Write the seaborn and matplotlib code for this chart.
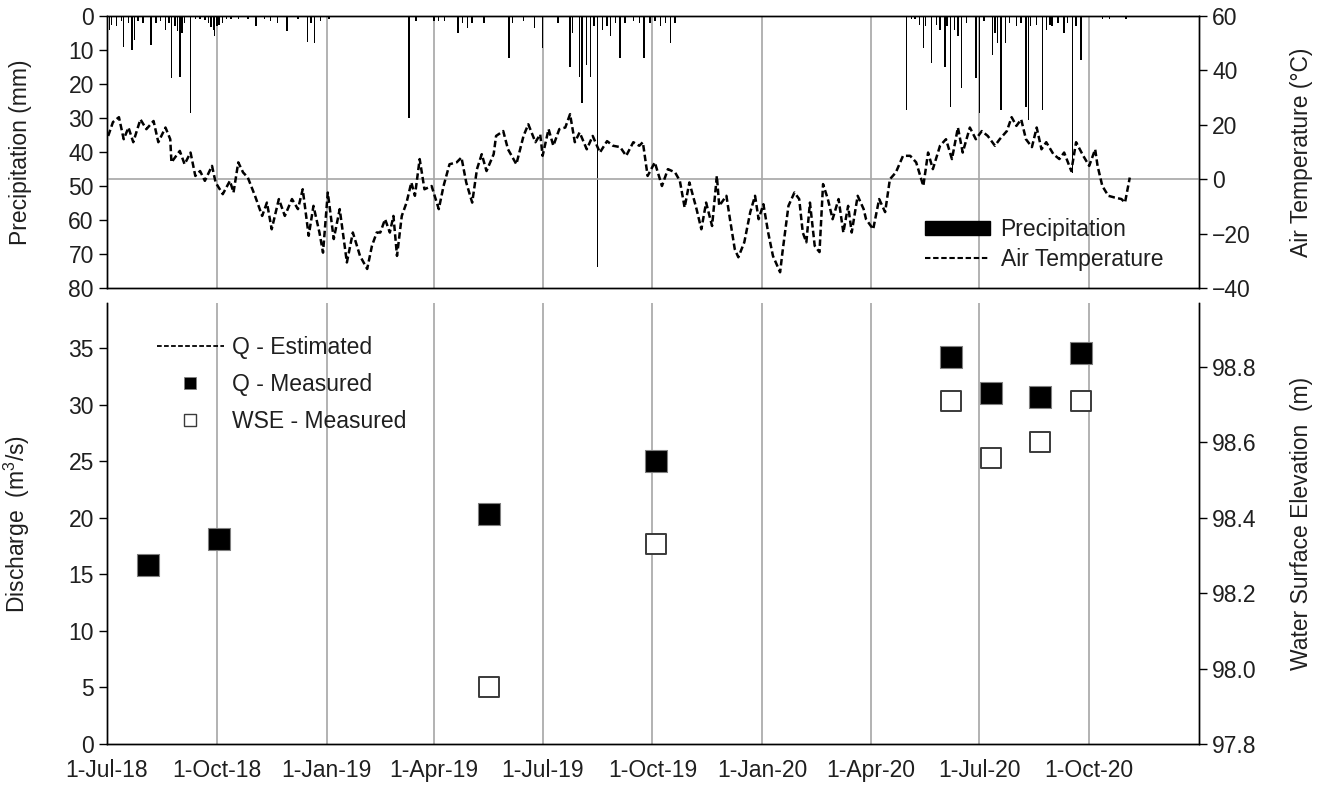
import numpy as np
import pandas as pd
import matplotlib
matplotlib.use("Agg")
import matplotlib.pyplot as plt
from matplotlib.lines import Line2D
from matplotlib.patches import Patch
import seaborn as sns

# ---- data ----
start = pd.Timestamp("2018-07-01")

# air temperature (days since 1-Jul-18, deg C)
temp_day = [1, 5, 10, 14, 18, 22, 28, 33, 39, 43, 49, 53, 54, 61, 65, 70, 74, 78, 82, 88,
            91, 97, 103, 106, 110, 114, 118, 124, 130, 134, 138, 144, 149, 155, 160, 164,
            169, 173, 178, 181, 185, 190, 195, 201, 206, 212, 218, 222, 226,
            229, 233, 237, 240, 243, 247, 251, 255, 258, 262, 266, 272, 278, 282, 287, 293,
            297, 301, 306, 310, 314, 318, 324, 326, 332, 336, 343, 349, 353, 359, 363, 365,
            370, 374, 379, 384, 388, 392, 396, 402, 407, 413, 419, 424, 430, 435, 441,
            446, 449, 453, 459, 465, 470, 476, 480, 484, 488, 494, 498, 502, 507, 511, 513,
            519, 522, 526, 529, 534, 539, 543, 546, 550, 554, 558, 564, 566, 571, 576, 580,
            583, 586, 589, 593, 597, 600, 604, 608, 613, 617, 621, 624, 629, 634, 636, 642,
            647, 652, 656, 661, 667,
            673, 678, 684, 688, 692, 698, 703, 708, 713, 717, 723, 728, 733, 738, 744, 748,
            754, 758, 762, 766, 770, 775, 779, 783, 787, 793, 798, 802, 808, 812, 818, 823,
            828, 830, 834, 839, 844, 850, 853, 857]
temp_c = [15.9, 21, 22.8, 14.7, 19, 13.6, 22, 18.4, 21.4, 13.6, 19, 14.7, 6.2, 10.4, 5.5, 9.8,
          1.2, 3, -0.6, 4.9, -1.2, -5.5, -0.6, -4.9, 6.2, 2.5, 0.6, -6.1, -13.5, -8.6, -18.4,
          -7.3, -13.5, -7.3, -11, -3.7, -20.8, -9.8, -19.6, -27, -4.9, -22, -11, -30.6, -19.6,
          -28.2, -33, -24.5, -19.6,
          -19.6, -14.7, -19.6, -13.5, -28.2, -13.5, -8.6, -1.2, -6.1, 7.4, -3.7, -2.5, -11,
          -2.5, 5.5, 6.2, 8, -1.2, -8.6, 3.7, 9.2, 3, 9.2, 15.9, 17.7, 11, 5.5, 15.9, 20.2,
          13.6, 16.5, 8.6, 18.4, 12.3, 18.4, 19, 23.9, 13.6, 17.2, 11, 15.9, 9.8, 14, 12.3,
          11.8, 8.6, 13.6,
          12.3, 13.6, 1.2, 6.2, -2.5, 3.7, 2.5, -0.6, -10.4, -1.2, -11, -18.4, -8.6, -17.2,
          1.2, -9.8, -6.1, -14.7, -25.7, -28.7, -23.2, -12.1, -6.1, -14.7, -9.2, -19.6,
          -28.2, -34.2, -26.8, -9.8, -4.9, -7.3, -19.6, -23.2, -8.6, -24.5, -26.8, -1.8,
          -7.3, -14.7, -7.3, -19.6, -9.8, -19.6, -6.1, -11, -14.7, -18.4, -7.3, -12.1, 0,
          2.5, 8.6,
          8.6, 6.2, -2.5, 9.8, 3.7, 12.3, 14.7, 7.4, 19, 9.8, 19, 14.7, 17.7, 15.9, 12.3,
          14.7, 17.7, 22.8, 19.6, 22, 14.7, 11.8, 19, 11, 13.6, 9.2, 7.4, 9.8, 3, 13.6, 8.6,
          4.9, 11, 4.9, -2.5, -6.1, -6.7, -7.3, -8.6, 0.6]

# daily precipitation (days since 1-Jul-18, mm)
precip_day = [0, 2, 4, 8, 12, 14, 18, 21, 23, 26, 30, 37, 41, 45, 49, 52, 54, 57, 59, 61, 62,
              63, 65, 70, 74, 78, 82, 85, 87, 89, 90, 92, 94, 97, 100, 104, 110, 118, 125,
              132, 137, 143, 151, 160, 168, 171, 174, 179, 186,
              253, 259, 274, 278, 283, 294, 298, 302, 306, 316, 337, 340, 349, 358, 365, 378,
              388, 390, 396, 398, 402, 405, 408, 411, 415, 419, 422, 426, 430, 434, 441, 446,
              450, 455, 459, 464, 468, 472, 476, 670, 674, 677,
              681, 684, 686, 691, 695, 698, 702, 704, 707, 710, 713, 716, 720, 728, 731, 735,
              742, 744, 746, 749, 753, 756, 762, 766, 770, 772, 774, 779, 784, 787, 790, 792,
              797, 802, 805, 809, 812, 816, 834, 840, 854]
precip_mm = [17.8, 4, 2.5, 3, 1.5, 9, 2, 10, 7, 1.5, 2, 8.5, 2, 1.5, 4, 2, 18.3, 3, 4.5, 17.8,
             3.5, 5, 2, 28.5, 1, 1, 1.2, 2, 3.1, 4, 6, 3, 2.5, 2, 1, 1, 1, 1, 3, 1, 1.5, 2,
             4.5, 1, 7.5, 2, 8, 1.5, 1,
             30, 1.5, 1.5, 1.5, 1.5, 5, 2, 3.5, 2, 2, 12.4, 2, 1.5, 3.6, 9.5, 2, 14.9, 5,
             17.8, 25.7, 14.5, 17.8, 3, 73.7, 4, 3, 6, 2, 12.4, 2, 1.5, 2, 12.4, 2, 1.5, 3,
             2, 8, 2, 27.6, 1, 1,
             2.5, 9.5, 3, 13.9, 2.5, 4, 14.9, 3, 26.7, 4, 6, 21.3, 2, 18.3, 28.6, 1.5, 11.5,
             5, 8, 27.6, 8, 2, 3, 2, 26.7, 30.6, 3, 2.5, 27.6, 4, 2.5, 3, 2, 5, 2, 46.3, 3,
             12.9, 0.8, 0.8, 0.8]

# measured discharge and water surface elevation
q_dates = ["2018-08-04", "2018-10-03", "2019-05-17", "2019-10-04",
           "2020-06-07", "2020-07-11", "2020-08-21", "2020-09-24"]
q_cms = [15.8, 18.1, 20.3, 25.0, 34.2, 31.0, 30.7, 34.6]

wse_dates = ["2019-05-17", "2019-10-04", "2020-06-07", "2020-07-11", "2020-08-21", "2020-09-24"]
wse_m = [97.95, 98.33, 98.71, 98.56, 98.60, 98.71]

tick_dates = pd.date_range("2018-07-01", "2020-10-01", freq="QS")
tick_labels = [f"{d.day}-{d.strftime('%b-%y')}" for d in tick_dates]

# ---- build frames ----
temp_df = pd.DataFrame({"date": start + pd.to_timedelta(temp_day, unit="D"), "temp": temp_c})
precip_df = pd.DataFrame({"date": start + pd.to_timedelta(precip_day, unit="D"), "mm": precip_mm})
q_df = pd.DataFrame({"date": pd.to_datetime(q_dates), "q": q_cms})
wse_df = pd.DataFrame({"date": pd.to_datetime(wse_dates), "wse": wse_m})

# ---- style ----
sns.set_theme(style="white")
plt.rcParams["font.family"] = ["Liberation Sans", "DejaVu Sans"]
plt.rcParams["mathtext.fontset"] = "custom"
plt.rcParams["mathtext.rm"] = "Liberation Sans"
plt.rcParams["mathtext.default"] = "regular"
FS = 16.5
TXT = "#1f1f1f"
GRID = "#a6a6a6"
xlim = (pd.Timestamp("2018-07-01"), pd.Timestamp("2021-01-01"))

fig = plt.figure(figsize=(13.25, 7.89), dpi=100)
L, W = 107 / 1325, 1092 / 1325
ax_p = fig.add_axes([L, 501 / 789, W, 272 / 789])
ax_q = fig.add_axes([L, 45 / 789, W, 441 / 789])
ax_t = ax_p.twinx()
ax_w = ax_q.twinx()

# ---- top panel: precipitation + air temperature ----
ax_p.bar(precip_df["date"], precip_df["mm"], width=1.2, color="black", linewidth=0, zorder=3)
ax_p.set_ylim(80, 0)
ax_p.set_yticks(range(0, 81, 10))
ax_p.set_ylabel("Precipitation (mm)", fontsize=FS, color=TXT)
ax_p.yaxis.set_label_coords(-0.069, 0.5)

ax_t.axhline(0, color=GRID, lw=1.2, zorder=0)
sns.lineplot(data=temp_df, x="date", y="temp", ax=ax_t, color="black", lw=1.8,
             linestyle=(0, (2.6, 1.3)), zorder=4)
ax_t.set_ylim(-40, 60)
ax_t.set_yticks(range(-40, 61, 20))
ax_t.set_xlabel("")
ax_t.set_ylabel("Air Temperature (°C)", fontsize=FS, color=TXT)
ax_t.yaxis.set_label_coords(1.083, 0.5)

top_handles = [Patch(facecolor="black", edgecolor="black"),
               Line2D([], [], color="black", lw=1.5, linestyle=(0, (2.6, 1.3)))]
ax_t.legend(top_handles, ["Precipitation", "Air Temperature"], loc="upper left",
            bbox_to_anchor=(0.749, 0.258), frameon=False, fontsize=FS, handlelength=2.85,
            handleheight=0.55, handletextpad=0.45, labelspacing=0.3, borderpad=0,
            borderaxespad=0, labelcolor=TXT)

# ---- bottom panel: discharge + water surface elevation ----
sns.scatterplot(data=q_df, x="date", y="q", ax=ax_q, marker="s", s=230, color="black",
                edgecolor="#808080", linewidth=0.8, zorder=4)
ax_q.set_ylim(0, 39)
ax_q.set_yticks(range(0, 36, 5))
ax_q.set_xlabel("")
ax_q.set_ylabel("Discharge  (m$^3$/s)", fontsize=FS, color=TXT)
ax_q.yaxis.set_label_coords(-0.069, 0.5)

sns.scatterplot(data=wse_df, x="date", y="wse", ax=ax_w, marker="s", s=200, color="white",
                edgecolor="#3a3a3a", linewidth=1.4, zorder=4)
ax_w.set_ylim(97.8, 98.97)
ax_w.set_yticks(np.arange(97.8, 98.81, 0.2))
ax_w.set_yticklabels([f"{v:.1f}" for v in np.arange(97.8, 98.81, 0.2)])
ax_w.set_xlabel("")
ax_w.set_ylabel("Water Surface Elevation  (m)", fontsize=FS, color=TXT)
ax_w.yaxis.set_label_coords(1.083, 0.5)

bot_handles = [Line2D([], [], color="black", lw=1.3, linestyle=(0, (2.6, 1.3))),
               Line2D([], [], color="black", marker="s", ms=9, lw=0, mec="#808080", mew=0.6),
               Line2D([], [], color="white", marker="s", ms=9, lw=0, mec="#3a3a3a", mew=1.0)]
ax_q.legend(bot_handles, ["Q - Estimated", "Q - Measured", "WSE - Measured"],
            loc="upper left", bbox_to_anchor=(0.046, 0.926), frameon=False, fontsize=FS,
            handlelength=2.9, handletextpad=0.35, labelspacing=0.62, borderpad=0,
            borderaxespad=0, labelcolor=TXT)

# ---- shared axis cosmetics ----
for ax in (ax_p, ax_t, ax_q, ax_w):
    ax.set_xlim(xlim)
    ax.set_xticks(tick_dates)
    ax.tick_params(axis="y", labelsize=FS, colors="black", labelcolor=TXT,
                   length=6, width=1, direction="out")
    for s in ax.spines.values():
        s.set_color("black")
        s.set_linewidth(1.0)

for ax in (ax_p, ax_q):
    ax.grid(axis="x", color=GRID, lw=1.2)
    ax.grid(axis="y", visible=False)
    ax.set_axisbelow(True)
ax_t.grid(False)
ax_w.grid(False)

ax_p.tick_params(axis="x", labelbottom=False, length=0)
ax_t.tick_params(axis="x", labelbottom=False, length=0)
ax_q.set_xticklabels(tick_labels)
ax_q.tick_params(axis="x", labelsize=FS, labelcolor=TXT, length=6, width=1,
                 direction="out", pad=5)
ax_w.tick_params(axis="x", length=0)
for ax in (ax_q, ax_w):
    ax.spines["top"].set_visible(False)

fig.savefig("out.png", dpi=100)
